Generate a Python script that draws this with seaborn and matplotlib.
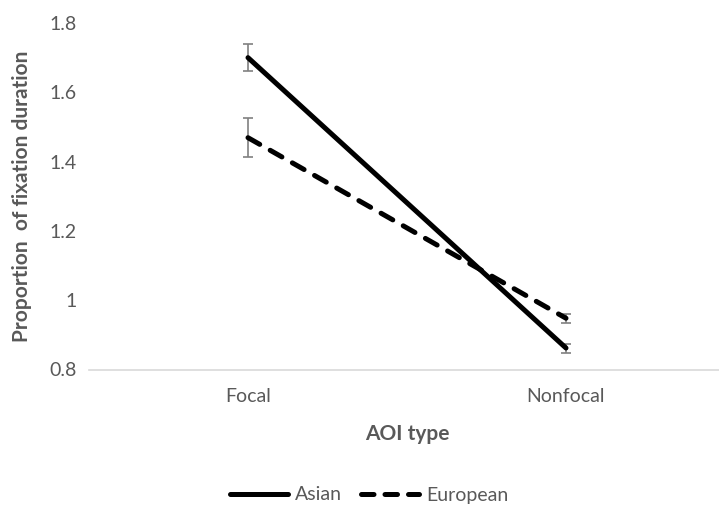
import matplotlib
matplotlib.use("Agg")
import matplotlib.pyplot as plt
import seaborn as sns
import pandas as pd
from matplotlib.lines import Line2D

categories = ["Focal", "Nonfocal"]
groups = ["Asian", "European"]
asian_mean = [1.70, 0.862]
asian_err = [0.039, 0.013]
european_mean = [1.469, 0.948]
european_err = [0.057, 0.013]
yticks = [0.8, 1.0, 1.2, 1.4, 1.6, 1.8]
ytick_labels = ["0.8", "1", "1.2", "1.4", "1.6", "1.8"]

sns.set_theme(style="white")
plt.rcParams['font.family'] = ['Lato', 'DejaVu Sans']

fig = plt.figure(figsize=(7.19, 5.09), dpi=100)
ax = fig.add_axes([89/719, (509-369.5)/509, 636/719, 346.5/509])

pos = [0.25, 0.75]
means = {"Asian": asian_mean, "European": european_mean}
errs = {"Asian": asian_err, "European": european_err}
styles = {"Asian": dict(linestyle="-"), "European": dict(dashes=(2.7, 2.4))}

for g in groups:
    df = pd.DataFrame({"x": pos, "y": means[g]})
    ax.errorbar(pos, means[g], yerr=errs[g], fmt="none", ecolor="#808080",
                elinewidth=1.2, capsize=3.6, capthick=1.2, zorder=1)
    sns.lineplot(data=df, x="x", y="y", ax=ax, color="black", linewidth=3.6,
                 solid_capstyle="round", dash_capstyle="round", zorder=3, **styles[g])

ax.set_xlim(0, 1)
ax.set_ylim(0.8, 1.8)
ax.set_xticks(pos)
ax.set_xticklabels(categories)
ax.set_yticks(yticks)
ax.set_yticklabels(ytick_labels)
ax.tick_params(axis="both", length=0, labelsize=14, colors="#595959", pad=9)
ax.tick_params(axis="x", pad=13)
for s in ["top", "right", "left"]:
    ax.spines[s].set_visible(False)
ax.spines["bottom"].set_color("#d9d9d9")
ax.spines["bottom"].set_linewidth(1.2)
ax.spines["bottom"].set_clip_on(False)

ax.set_xlabel("AOI type", fontsize=15, fontweight="bold", color="#595959", labelpad=14)
ax.set_ylabel("Proportion  of fixation duration", fontsize=15, fontweight="bold",
              color="#595959", labelpad=12)

handles = [Line2D([0], [0], color="black", linewidth=3.6, solid_capstyle="round"),
           Line2D([0], [0], color="black", linewidth=3.6, dashes=(2.5, 2.2), dash_capstyle="round")]
leg = fig.legend(handles, groups, loc="center", bbox_to_anchor=(369/719, 1 - 495/509),
                 ncol=2, frameon=False, fontsize=14, handlelength=3.0,
                 handletextpad=0.35, columnspacing=1.0)
for t in leg.get_texts():
    t.set_color("#595959")

fig.savefig("out.png", dpi=100)
